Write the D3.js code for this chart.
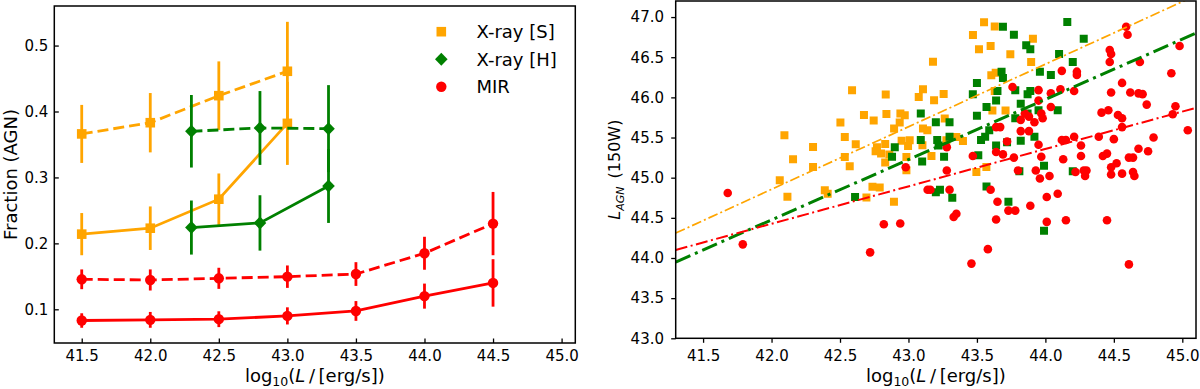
<!DOCTYPE html>
<html>
<head>
<meta charset="utf-8">
<script src="https://cdn.jsdelivr.net/npm/d3@7"></script>
<style>
body { margin: 0; background: #fff; }
text { font-family: "DejaVu Sans", sans-serif; fill: #000; }
</style>
</head>
<body>
<script>
// ---- data: left panel (AGN fraction vs luminosity) ----
var xTicks = [41.5, 42.0, 42.5, 43.0, 43.5, 44.0, 44.5, 45.0];
var fracTicks = [0.1, 0.2, 0.3, 0.4, 0.5];
var lagnTicks = [43.0, 43.5, 44.0, 44.5, 45.0, 45.5, 46.0, 46.5, 47.0];

var softX = [41.5, 42.0, 42.5, 43.0];
var softLow = [0.214, 0.223, 0.267, 0.382];
var softLowErr = [0.032, 0.033, 0.039, 0.063];
var softHigh = [0.366, 0.383, 0.424, 0.461];
var softHighErr = [0.044, 0.045, 0.052, 0.075];

var hardX = [42.3, 42.8, 43.3];
var hardLow = [0.224, 0.231, 0.287];
var hardLowErr = [0.041, 0.042, 0.056];
var hardHigh = [0.370, 0.375, 0.374];
var hardHighErr = [0.055, 0.056, 0.066];

var mirX = [41.5, 42.0, 42.5, 43.0, 43.5, 44.0, 44.5];
var mirLow = [0.083, 0.084, 0.085, 0.090, 0.0975, 0.120, 0.140];
var mirLowErr = [0.011, 0.012, 0.012, 0.013, 0.015, 0.019, 0.036];
var mirHigh = [0.1455, 0.1445, 0.147, 0.1495, 0.1535, 0.185, 0.230];
var mirHighErr = [0.015, 0.016, 0.016, 0.017, 0.018, 0.025, 0.048];

var legendNames = ["X-ray [S]", "X-ray [H]", "MIR"];

// ---- data: right panel (L_AGN vs L) ----
var softPts = [
  [42.094,45.529],[42.157,45.23],[42.06,44.969],[42.116,44.761],
  [42.303,45.383],[42.303,45.134],[42.389,44.844],[42.41,44.80],
  [42.503,45.686],[42.535,45.507],[42.588,46.088],[42.615,45.417],[42.535,45.259],[42.571,45.143],
  [42.675,45.781],[42.746,45.711],[42.834,46.035],[42.839,45.794],
  [42.693,44.754],[42.737,44.886],[42.79,44.878],[42.894,44.699],
  [42.77,45.38],[42.83,45.42],[42.80,45.30],[42.83,45.19],[42.86,45.29],[42.76,45.33],
  [42.895,45.612],[42.936,45.687],[42.941,45.798],[42.973,45.777],
  [42.95,45.46],[43.009,45.466],[42.997,45.396],[42.985,45.259],[42.985,45.093],
  [43.075,46.005],[43.106,46.101],[43.102,45.404],[43.106,45.612],[43.138,45.591],
  [43.179,46.445],[43.187,45.964],[43.257,46.042],[43.265,45.736],[43.277,45.466],[43.168,45.271],
  [43.350,45.507],[43.398,45.458],
  [43.471,46.776],[43.552,46.934],[43.630,46.884],[43.515,46.598],[43.600,46.639],
  [43.605,46.275],[43.637,46.308],[43.630,46.080],[43.613,45.836],[43.709,45.837],
  [43.744,46.536],[43.896,46.440],[43.909,46.731],
  [43.496,45.072],[43.569,45.134]
];
var hardPts = [
  [42.61,44.76],[42.90,45.38],[42.88,45.26],[43.09,45.80],[43.09,45.47],[43.10,45.20],
  [43.20,45.69],[43.21,45.47],[43.22,45.40],[43.26,45.26],[43.20,44.82],[43.23,44.85],
  [43.30,45.69],[43.30,45.51],[43.32,44.75],
  [43.47,46.04],[43.50,46.18],[43.50,45.77],[43.51,45.28],[43.53,45.47],[43.56,45.51],
  [43.57,45.88],[43.59,45.59],[43.57,44.89],[43.64,45.40],[43.65,46.08],[43.64,45.96],
  [43.68,46.32],[43.69,46.24],[43.69,46.88],[43.77,46.78],[43.72,45.44],[43.73,44.70],
  [43.78,46.09],[43.78,45.74],[43.82,45.92],[43.82,45.46],[43.81,45.08],
  [43.86,46.65],[43.89,46.60],[43.87,46.04],[43.89,46.08],[43.87,45.80],[43.92,45.51],
  [43.96,46.32],[43.95,45.84],[43.99,44.34],[43.99,45.15],[44.04,46.28],[44.09,45.84],
  [44.10,46.54],[44.16,46.94],[44.20,46.44],[44.20,45.08],[44.28,46.73]
];
var mirPts = [
  [41.68,44.81],[41.79,44.17],
  [42.72,44.07],[42.82,44.42],[42.94,44.43],[42.98,45.13],
  [43.14,44.85],[43.16,44.85],[43.30,44.85],[43.33,44.51],[43.35,44.55],
  [43.28,45.38],[43.28,45.09],
  [43.46,43.93],[43.47,45.27],[43.58,44.11],[43.60,44.85],[43.65,44.70],[43.64,44.48],
  [43.64,45.63],[43.64,45.32],[43.67,45.63],[43.69,45.29],
  [43.72,45.45],[43.77,45.25],[43.80,45.09],[43.76,46.13],
  [43.73,44.59],[43.78,44.59],[43.89,44.65],
  [43.82,45.72],[43.85,45.80],[43.82,45.58],[43.88,45.58],[43.88,45.76],
  [43.92,45.69],[43.95,46.09],[43.95,45.96],[43.97,45.80],[43.98,45.74],
  [43.95,45.41],[43.97,45.26],[43.93,45.09],[43.96,44.99],
  [44.01,44.76],[44.09,44.80],[44.01,44.45],[44.15,44.47],[44.45,44.47],[44.61,43.92],
  [44.03,45.02],[44.04,45.88],[44.04,46.05],
  [44.11,46.10],[44.12,46.33],[44.21,46.08],[44.23,46.32],[44.23,46.28],
  [44.12,45.47],[44.15,45.47],[44.21,45.51],[44.13,45.23],
  [44.26,45.40],[44.26,45.27],[44.22,45.07],[44.28,45.09],[44.30,45.09],[44.29,45.02],
  [44.39,45.51],[44.41,45.81],[44.46,45.84],[44.42,45.27],[44.45,45.30],
  [44.47,46.59],[44.48,46.54],[44.47,46.44],[44.48,46.06],
  [44.50,45.48],[44.52,45.18],[44.48,45.13],[44.48,45.04],
  [44.53,45.78],[44.56,45.74],[44.56,45.63],[44.56,46.18],
  [44.59,46.88],[44.60,46.78],
  [44.62,46.06],[44.61,45.25],[44.64,45.25],[44.56,45.05],[44.64,45.07],[44.65,45.02],
  [44.68,46.05],[44.69,46.44],[44.68,45.36],[44.71,46.04],[44.74,45.91],[44.75,45.33],[44.79,45.50],
  [44.92,46.30],[44.93,45.79],[44.95,45.89],[44.98,46.64],[45.04,45.59]
];
// fit line end points (x, y)
var softFit = [[41.3, 44.31], [45.1, 47.27]];
var hardFit = [[41.3, 43.95], [45.1, 46.80]];
var mirFit = [[41.3, 44.10], [45.1, 45.87]];

var orange = "#ffa500", green = "#008000", red = "#ff0000";

var width = 1200, height = 389;
var svg = d3.select("body").append("svg")
    .attr("width", width)
    .attr("height", height);
svg.append("rect").attr("width", width).attr("height", height).attr("fill", "#fff");

var fmt = d3.format(".1f");

function styleAxis(g) {
  g.select(".domain").remove();
  g.selectAll("text").attr("font-size", 15).attr("font-family", "DejaVu Sans, sans-serif").attr("fill", "#000");
  g.selectAll("line").attr("stroke", "#000").attr("stroke-width", 1.3);
}

// ================= LEFT PANEL =================
var L = {left: 54.3, right: 575.3, top: 6, bottom: 343};
var xL = d3.scaleLinear().domain([41.3, 45.1]).range([L.left, L.right]);
var yL = d3.scaleLinear().domain([0.0489, 0.560]).range([L.bottom, L.top]);

svg.append("g").attr("transform", "translate(0," + L.bottom + ")")
  .call(d3.axisBottom(xL).tickValues(xTicks).tickFormat(fmt).tickSizeInner(-4.5).tickSizeOuter(0).tickPadding(7.7))
  .call(styleAxis);
svg.append("g").attr("transform", "translate(" + L.left + ",0)")
  .call(d3.axisLeft(yL).tickValues(fracTicks).tickFormat(fmt).tickSizeInner(-4.5).tickSizeOuter(0).tickPadding(6))
  .call(styleAxis);

function series(xs, ys, es, color, dashed, marker) {
  var pts = xs.map(function(d, i) { return {x: d, y: ys[i], e: es[i]}; });
  var g = svg.append("g");
  g.append("path")
    .datum(pts)
    .attr("fill", "none")
    .attr("stroke", color)
    .attr("stroke-width", 2.8)
    .attr("stroke-dasharray", dashed ? "11,5" : null)
    .attr("d", d3.line().x(function(d) { return xL(d.x); }).y(function(d) { return yL(d.y); }));
  g.selectAll(".err").data(pts).enter().append("line")
    .attr("x1", function(d) { return xL(d.x); })
    .attr("x2", function(d) { return xL(d.x); })
    .attr("y1", function(d) { return yL(d.y - d.e); })
    .attr("y2", function(d) { return yL(d.y + d.e); })
    .attr("stroke", color)
    .attr("stroke-width", 2.8);
  g.selectAll(".mk").data(pts).enter().append("path")
    .attr("transform", function(d) { return "translate(" + xL(d.x) + "," + yL(d.y) + ")"; })
    .attr("d", marker)
    .attr("fill", color);
}

var sqL = "M-4.8,-4.8H4.8V4.8H-4.8Z";
var diaL = "M0,-6.5L6.3,0L0,6.5L-6.3,0Z";
var circL = d3.symbol().type(d3.symbolCircle).size(Math.PI * 5.2 * 5.2)();

series(softX, softHigh, softHighErr, orange, true, sqL);
series(softX, softLow, softLowErr, orange, false, sqL);
series(hardX, hardHigh, hardHighErr, green, true, diaL);
series(hardX, hardLow, hardLowErr, green, false, diaL);
series(mirX, mirHigh, mirHighErr, red, true, circL);
series(mirX, mirLow, mirLowErr, red, false, circL);

svg.append("rect")
  .attr("x", L.left).attr("y", L.top)
  .attr("width", L.right - L.left).attr("height", L.bottom - L.top)
  .attr("fill", "none").attr("stroke", "#000").attr("stroke-width", 1.5);

// legend
var legMarkers = [sqL, diaL, circL];
var legColors = [orange, green, red];
var leg = svg.append("g");
legendNames.forEach(function(name, i) {
  var cy = 31.7 + i * 27.5;
  leg.append("path").attr("transform", "translate(441.3," + cy + ")")
    .attr("d", legMarkers[i]).attr("fill", legColors[i]);
  leg.append("text").attr("x", 476.5).attr("y", cy).attr("dy", "0.36em")
    .attr("font-size", 18).text(name);
});

function xlabel(cx) {
  var t = svg.append("text").attr("x", cx).attr("y", 382).attr("text-anchor", "middle").attr("font-size", 18);
  t.append("tspan").text("log");
  t.append("tspan").attr("font-size", 12.5).attr("dy", 4).text("10");
  t.append("tspan").attr("dy", -4).text("(");
  t.append("tspan").attr("font-style", "italic").text("L");
  t.append("tspan").text("\u2009/\u2009[erg/s])");
}
xlabel((L.left + L.right) / 2);

svg.append("text")
  .attr("transform", "translate(17," + ((L.top + L.bottom) / 2) + ") rotate(-90)")
  .attr("text-anchor", "middle").attr("font-size", 18)
  .text("Fraction (AGN)");

// ================= RIGHT PANEL =================
var R = {left: 675.7, right: 1196, top: 1, bottom: 338.3};
var xR = d3.scaleLinear().domain([41.3, 45.1]).range([R.left, R.right]);
var yR = d3.scaleLinear().domain([43.0, 47.2]).range([R.bottom, R.top]);

svg.append("g").attr("transform", "translate(0," + R.bottom + ")")
  .call(d3.axisBottom(xR).tickValues(xTicks).tickFormat(fmt).tickSizeInner(4.5).tickSizeOuter(0).tickPadding(7.7))
  .call(styleAxis);
svg.append("g").attr("transform", "translate(" + R.left + ",0)")
  .call(d3.axisLeft(yR).tickValues(lagnTicks).tickFormat(fmt).tickSizeInner(4.5).tickSizeOuter(0).tickPadding(7.2))
  .call(styleAxis);

svg.append("clipPath").attr("id", "clipR").append("rect")
  .attr("x", R.left).attr("y", R.top).attr("width", R.right - R.left).attr("height", R.bottom - R.top);

var plotR = svg.append("g").attr("clip-path", "url(#clipR)");

function scatter(pts, color, shape) {
  var sel = plotR.append("g").selectAll("path").data(pts).enter().append("path")
    .attr("transform", function(d) { return "translate(" + xR(d[0]) + "," + yR(d[1]) + ")"; })
    .attr("fill", color);
  if (shape === "square") sel.attr("d", "M-4,-4H4V4H-4Z");
  else sel.attr("d", d3.symbol().type(d3.symbolCircle).size(Math.PI * 4.3 * 4.3)());
}
scatter(softPts, orange, "square");
scatter(hardPts, green, "square");
scatter(mirPts, red, "circle");

function fitLine(pts, color, lw, dash) {
  plotR.append("line")
    .attr("x1", xR(pts[0][0])).attr("y1", yR(pts[0][1]))
    .attr("x2", xR(pts[1][0])).attr("y2", yR(pts[1][1]))
    .attr("stroke", color).attr("stroke-width", lw)
    .attr("stroke-dasharray", dash);
}
fitLine(softFit, orange, 1.7, "10,3,2,3");
fitLine(hardFit, green, 3, "16,5,3,5");
fitLine(mirFit, red, 2, "12,3.5,2,3.5");

svg.append("rect")
  .attr("x", R.left).attr("y", R.top)
  .attr("width", R.right - R.left).attr("height", R.bottom - R.top)
  .attr("fill", "none").attr("stroke", "#000").attr("stroke-width", 1.5);

xlabel((R.left + R.right) / 2);

var yl = svg.append("text")
  .attr("transform", "translate(620," + ((R.top + R.bottom) / 2) + ") rotate(-90)")
  .attr("text-anchor", "middle").attr("font-size", 16);
yl.append("tspan").attr("font-style", "italic").text("L");
yl.append("tspan").attr("font-style", "italic").attr("font-size", 11).attr("dy", 3.5).text("AGN");
yl.append("tspan").attr("dy", -3.5).text("\u2002(150W)");
</script>
</body>
</html>
